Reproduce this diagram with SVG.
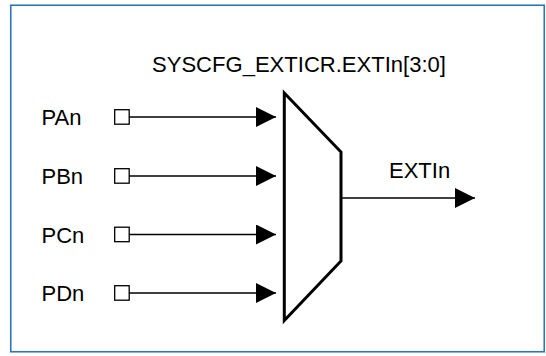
<svg xmlns="http://www.w3.org/2000/svg" width="546" height="356" viewBox="0 0 546 356">
<defs>
<style>
.lbl{font-family:"Liberation Sans",Arial,sans-serif;font-size:22px;fill:#000}
.wire{stroke:#000;stroke-width:1.6;fill:none}
.pin{stroke:#000;stroke-width:1.3;fill:#fff}
</style>
<marker id="ah" markerUnits="userSpaceOnUse" markerWidth="20" markerHeight="20" viewBox="0 0 20 20" refX="20" refY="10" orient="auto">
<path d="M0,0 L20,10 L0,20 Z" fill="#000"/>
</marker>
</defs>
<rect x="0" y="0" width="546" height="356" fill="#fff"/>
<rect id="frame" x="10.75" y="5.25" width="533.5" height="346.5" fill="none" stroke="#2E75B6" stroke-width="1.6"/>
<text class="lbl" x="299" y="72" text-anchor="middle" textLength="294" lengthAdjust="spacingAndGlyphs">SYSCFG_EXTICR.EXTIn[3:0]</text>
<g id="connectors">
<line class="wire" x1="129" y1="117" x2="276" y2="117" marker-end="url(#ah)"/>
<line class="wire" x1="129" y1="176" x2="276" y2="176" marker-end="url(#ah)"/>
<line class="wire" x1="129" y1="234.5" x2="276" y2="234.5" marker-end="url(#ah)"/>
<line class="wire" x1="129" y1="293" x2="276" y2="293" marker-end="url(#ah)"/>
<line class="wire" x1="341" y1="198" x2="475" y2="198" marker-end="url(#ah)"/>
</g>
<g id="PAn"><text class="lbl" x="41.5" y="125">PAn</text><rect class="pin" x="114.7" y="109.7" width="14.5" height="14.5"/></g>
<g id="PBn"><text class="lbl" x="41.5" y="184">PBn</text><rect class="pin" x="114.7" y="168.7" width="14.5" height="14.5"/></g>
<g id="PCn"><text class="lbl" x="41.5" y="242.5">PCn</text><rect class="pin" x="114.7" y="227.2" width="14.5" height="14.5"/></g>
<g id="PDn"><text class="lbl" x="41.5" y="301">PDn</text><rect class="pin" x="114.7" y="285.7" width="14.5" height="14.5"/></g>
<g id="mux"><polygon points="284.3,93 341,152 341,261 284.3,320.5" fill="#fff" stroke="#000" stroke-width="3" stroke-linejoin="miter" stroke-miterlimit="10"/></g>
<g id="EXTIn"><text class="lbl" x="389" y="177.5">EXTIn</text></g>
</svg>
